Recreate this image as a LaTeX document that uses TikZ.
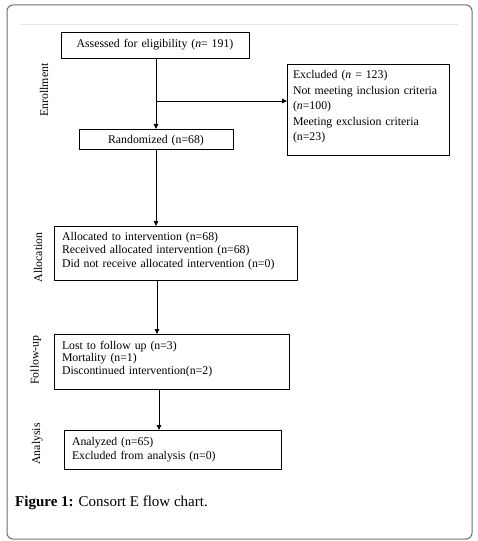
\documentclass[tikz,border=0pt]{standalone}
\usepackage{fontspec}
\setmainfont{Liberation Serif}
\usetikzlibrary{arrows.meta,calc}
\definecolor{framegray}{HTML}{6E6E6E}
\definecolor{rulegray}{HTML}{E2E2E2}
\tikzset{
  box/.style={draw, line width=0.9bp, anchor=north west, inner ysep=0pt, outer sep=0pt},
  arr/.style={line width=0.8bp, -{Triangle[length=5bp,width=4.5bp]}},
  lbl/.style={rotate=90, anchor=base, inner sep=0pt, font=\fontsize{11.8bp}{14bp}\selectfont},
}
\begin{document}
\begin{tikzpicture}[x=1bp,y=-1bp]
\useasboundingbox (0,0) rectangle (478,541);
% frame
\draw[framegray, line width=1bp, rounded corners=6bp] (7,5) rectangle (472,539);
\draw[rulegray, line width=1bp] (21,25) -- (458,25);
% boxes
\node[box, align=center, inner xsep=4bp, text width=180bp, text height=15.5bp, text depth=10.5bp,
      font=\fontsize{11.8bp}{14bp}\selectfont] (assess) at (61,32)
  {Assessed for eligibility (\textit{n}= 191)};
\node[box, align=center, inner xsep=4bp, text width=146bp, text height=15bp, text depth=5bp,
      font=\fontsize{11.8bp}{14bp}\selectfont] (rand) at (79,129)
  {Randomized (n=68)};
\node[box, align=left, inner xsep=6bp, text width=150bp, text height=15bp, text depth=76bp,
      font=\fontsize{11.8bp}{15.4bp}\selectfont] (excl) at (287,64)
  {Excluded (\textit{n} = 123)\\Not meeting inclusion criteria\\(\textit{n}=100)\\Meeting exclusion criteria\\(n=23)};
\node[box, align=left, inner xsep=8bp, text width=227bp, text height=14bp, text depth=40bp,
      font=\fontsize{11.8bp}{13.6bp}\selectfont] (alloc) at (54,226)
  {Allocated to intervention (n=68)\\Received allocated intervention (n=68)\\Did not receive allocated intervention (n=0)};
\node[box, align=left, inner xsep=8bp, text width=219bp, text height=15bp, text depth=40bp,
      font=\fontsize{11.8bp}{12.8bp}\selectfont] (follow) at (54,334)
  {Lost to follow up (n=3)\\Mortality (n=1)\\Discontinued intervention(n=2)};
\node[box, align=left, inner xsep=8bp, text width=201bp, text height=15bp, text depth=24bp,
      font=\fontsize{11.8bp}{14.3bp}\selectfont] (anal) at (64,430)
  {Analyzed (n=65)\\Excluded from analysis (n=0)};
% stage labels
\node[lbl] (lenroll) at (48,90) {Enrollment};
\node[lbl] (lalloc) at (42,257.5) {Allocation};
\node[lbl] (lfollow) at (38.5,360) {Follow-up};
\node[lbl] (lanal) at (40,444) {Analysis};
% connectors
\coordinate (branch) at ($(rand.north)+(0,-28)$);
\draw[arr] (assess.south -| rand.north) -- (rand.north);
\draw[arr] (branch) -- (branch -| excl.west);
\draw[arr] (rand.south) -- (rand.south |- alloc.north);
\draw[arr] ([xshift=1bp]rand.south |- alloc.south) -- ([xshift=1bp]rand.south |- follow.north);
\draw[arr] ([xshift=3bp]rand.south |- follow.south) -- ([xshift=3bp]rand.south |- anal.north);
% caption
\node[anchor=base west, inner sep=0pt, font=\fontsize{15bp}{18bp}\selectfont] (caption) at (15,506.7)
  {\textbf{Figure 1:} Consort E flow chart.};
\end{tikzpicture}
\end{document}
